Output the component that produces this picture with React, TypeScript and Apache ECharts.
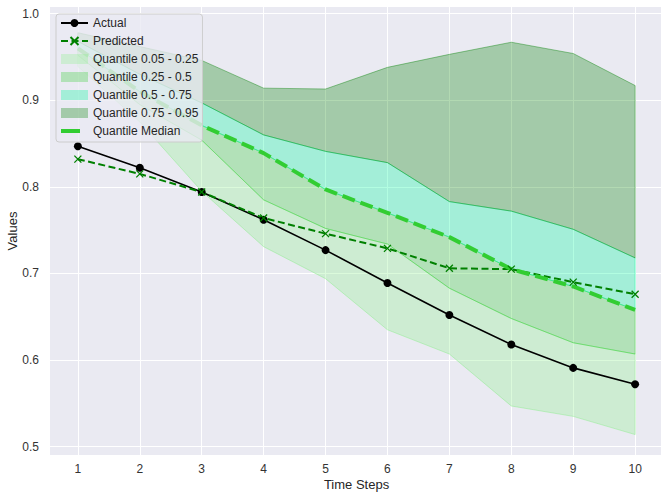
import React, { useEffect, useRef } from 'react';
import * as echarts from 'echarts';

const steps = [1, 2, 3, 4, 5, 6, 7, 8, 9, 10];
const actual = [0.847, 0.822, 0.794, 0.762, 0.727, 0.689, 0.652, 0.618, 0.591, 0.572];
const predicted = [0.832, 0.815, 0.794, 0.764, 0.746, 0.729, 0.706, 0.705, 0.690, 0.676];
const q05 = [0.939, 0.875, 0.795, 0.731, 0.694, 0.635, 0.607, 0.547, 0.535, 0.514];
const q25 = [0.952, 0.895, 0.854, 0.785, 0.752, 0.734, 0.683, 0.648, 0.620, 0.607];
const q50 = [0.960, 0.910, 0.871, 0.839, 0.797, 0.770, 0.742, 0.705, 0.685, 0.658];
const q75 = [0.968, 0.930, 0.897, 0.860, 0.841, 0.828, 0.783, 0.772, 0.751, 0.718];
const q95 = [0.978, 0.962, 0.946, 0.914, 0.913, 0.938, 0.953, 0.967, 0.954, 0.917];
const xTickLabels = [1, 2, 3, 4, 5, 6, 7, 8, 9, 10];

const FONT = '"Liberation Sans", Arial, sans-serif';

const bands = [
  { name: 'Quantile 0.05 - 0.25', lower: q05, upper: q25, fill: 'rgba(144,238,144,0.32)', stroke: 'rgba(144,238,144,0.5)' },
  { name: 'Quantile 0.25 - 0.5', lower: q25, upper: q50, fill: 'rgba(50,205,50,0.3)', stroke: 'rgba(50,205,50,0.45)' },
  { name: 'Quantile 0.5 - 0.75', lower: q50, upper: q75, fill: 'rgba(0,250,154,0.3)', stroke: 'rgba(0,250,154,0.45)' },
  { name: 'Quantile 0.75 - 0.95', lower: q75, upper: q95, fill: 'rgba(0,128,0,0.3)', stroke: 'rgba(0,128,0,0.4)' },
];

export default function App() {
  const ref = useRef<HTMLDivElement>(null);
  useEffect(() => {
    const chart = echarts.init(ref.current!, null, { renderer: 'svg' });
    const bandSeries = bands.map((b) => ({
      type: 'custom',
      name: b.name,
      z: 1,
      silent: true,
      itemStyle: { color: b.fill },
      encode: { x: 0, y: [1, 2] },
      data: steps.map((s, i) => [s, b.lower[i], b.upper[i]]),
      renderItem: (params: any, api: any) => {
        if (params.dataIndex !== 0) return null;
        const pts: number[][] = [];
        for (let i = 0; i < steps.length; i++) pts.push(api.coord([steps[i], b.upper[i]]));
        for (let i = steps.length - 1; i >= 0; i--) pts.push(api.coord([steps[i], b.lower[i]]));
        return {
          type: 'polygon',
          shape: { points: pts },
          style: { fill: b.fill, stroke: b.stroke, lineWidth: 1 },
        };
      },
    }));

    const option: any = {
      animation: false,
      grid: {
        left: 50,
        right: -2,
        top: 7,
        bottom: 40,
        outerBoundsMode: 'none',
        containLabel: false,
        show: true,
        backgroundColor: '#EAEAF2',
        borderWidth: 0,
      },
      xAxis: {
        type: 'value',
        min: 0.55,
        max: 10.45,
        name: 'Time Steps',
        nameLocation: 'middle',
        nameGap: 23,
        nameMoveOverlap: false,
        nameTextStyle: { fontSize: 13, color: '#262626', fontFamily: FONT },
        axisLine: { show: false },
        axisTick: { show: false, customValues: xTickLabels },
        splitLine: { show: false },
        axisLabel: {
          customValues: xTickLabels,
          fontSize: 12,
          color: '#333',
          fontFamily: FONT,
          margin: 8,
        },
      },
      yAxis: {
        type: 'value',
        min: 0.4904,
        max: 1.0077,
        name: 'Values',
        nameLocation: 'middle',
        nameGap: 31,
        nameMoveOverlap: false,
        nameTextStyle: { fontSize: 13, color: '#262626', fontFamily: FONT },
        axisLine: { show: false },
        axisTick: { show: false },
        splitLine: { show: true, showMinLine: false, showMaxLine: false, lineStyle: { color: '#ffffff', width: 1 } },
        axisLabel: {
          showMinLabel: false,
          showMaxLabel: false,
          fontSize: 12,
          color: '#333',
          fontFamily: FONT,
          margin: 11,
          formatter: (v: number) => v.toFixed(1),
        },
      },
      legend: {
        orient: 'vertical',
        left: 56,
        top: 14,
        padding: [3, 4, 5, 4],
        itemWidth: 27,
        itemHeight: 10,
        itemGap: 6,
        selectedMode: false,
        backgroundColor: 'rgba(234,234,242,0.8)',
        borderColor: '#cccccc',
        borderWidth: 1,
        borderRadius: 3,
        textStyle: { fontSize: 12, color: '#262626', fontFamily: FONT, lineHeight: 12 },
        data: [
          { name: 'Actual' },
          { name: 'Predicted' },
          ...bands.map((b) => ({ name: b.name, icon: 'rect' })),
          { name: 'Quantile Median', icon: 'path://M0 3H19V7H0Z M27 0 M27 10 M0 0 M0 10', itemStyle: { color: '#32CD32' } },
        ],
      },
      series: [
        {
          type: 'line',
          name: 'gridHelper',
          z: 0,
          silent: true,
          symbol: 'none',
          lineStyle: { opacity: 0 },
          data: steps.map((s, i) => [s, actual[i]]),
          markLine: {
            z: 0,
            silent: true,
            symbol: ['none', 'none'],
            label: { show: false },
            lineStyle: { color: '#ffffff', width: 1, type: 'solid' },
            data: steps.map((s) => ({ xAxis: s })),
          },
        },
        ...bandSeries,
        {
          type: 'line',
          name: 'Actual',
          z: 3,
          data: steps.map((s, i) => [s, actual[i]]),
          symbol: 'circle',
          symbolSize: 8,
          itemStyle: { color: '#000000' },
          lineStyle: { color: '#000000', width: 1.6 },
        },
        {
          type: 'line',
          name: 'Predicted',
          z: 3,
          data: steps.map((s, i) => [s, predicted[i]]),
          symbol: 'path://M0 0L10 10M10 0L0 10',
          symbolSize: 7,
          itemStyle: { color: 'rgba(0,0,0,0)', borderColor: '#008000', borderWidth: 1.3 },
          lineStyle: { color: '#008000', width: 2, type: [7, 3.5] },
        },
        {
          type: 'line',
          name: 'Quantile Median',
          z: 3,
          data: steps.map((s, i) => [s, q50[i]]),
          symbol: 'none',
          itemStyle: { color: '#32CD32' },
          lineStyle: { color: '#32CD32', width: 4, type: [13, 6] },
        },
      ],
    };
    chart.setOption(option);
    return () => chart.dispose();
  }, []);
  return <div ref={ref} style={{ position: 'absolute', left: 0, top: 0, width: 661, height: 495 }} />;
}
